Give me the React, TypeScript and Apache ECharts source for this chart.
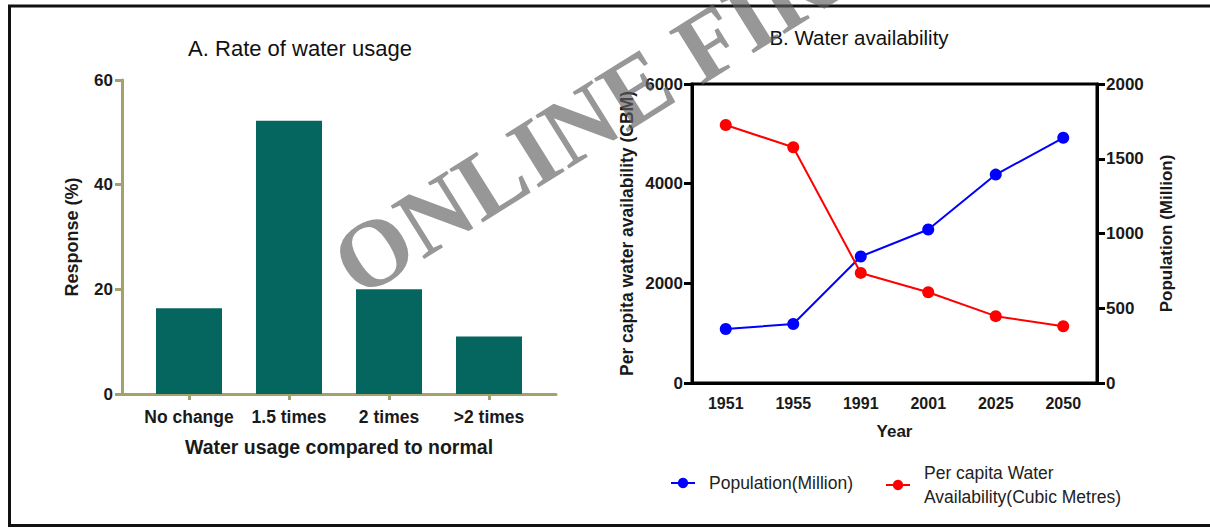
import React, { useEffect, useRef } from "react";
import * as echarts from "echarts";

const barCategories = ["No change", "1.5 times", "2 times", ">2 times"];
const barValues = [16.4, 52.2, 20.0, 11.0];
const barTicks = [0, 20, 40, 60];

const years = ["1951", "1955", "1991", "2001", "2025", "2050"];
const population = [361, 395, 846, 1027, 1394, 1640];
const perCapita = [5177, 4732, 2209, 1820, 1341, 1140];

const FONT = '"Liberation Sans", Arial, sans-serif';
const OLIVE = "#a3a16c";
const TEAL = "#04665f";
const POP_NAME = "Population(Million)";
const WATER_NAME = "Per capita Water\nAvailability(Cubic Metres)";

export default function App() {
  const ref = useRef<HTMLDivElement>(null);
  useEffect(() => {
    if (!ref.current) return;
    const chart = echarts.init(ref.current, null, { renderer: "svg" });
    const boldLabel = (size: number) => ({
      fontFamily: FONT,
      fontWeight: "bold" as const,
      fontSize: size,
      color: "#1a1a1a",
    });
    const plain = (v: number) => String(v);
    chart.setOption({
      animation: false,
      backgroundColor: "#ffffff",
      textStyle: { fontFamily: FONT },
      title: [
        {
          text: "A. Rate of water usage",
          left: 295,
          top: 32,
          textAlign: "center",
          textStyle: { fontFamily: FONT, fontWeight: "normal", fontSize: 22, color: "#111" },
        },
        {
          text: "B. Water availability",
          left: 854,
          top: 22,
          textAlign: "center",
          textStyle: { fontFamily: FONT, fontWeight: "normal", fontSize: 20.5, color: "#111" },
        },
      ],
      legend: [
        {
          data: [{ name: POP_NAME }],
          left: 670,
          top: 474,
          padding: 0,
          itemWidth: 24,
          itemHeight: 13,
          textStyle: { fontFamily: FONT, fontSize: 17.5, color: "#222", padding: [0, 0, 0, 9] },
        },
        {
          data: [{ name: WATER_NAME }],
          left: 885,
          top: 461,
          padding: 0,
          itemWidth: 24,
          itemHeight: 13,
          textStyle: {
            fontFamily: FONT,
            fontSize: 17.5,
            color: "#222",
            lineHeight: 24,
            padding: [0, 0, 0, 9],
          },
        },
      ],
      grid: [
        { left: 122, top: 80, width: 434, height: 314 },
        {
          left: 692,
          top: 84,
          width: 405,
          height: 299,
          show: true,
          borderColor: "#000",
          borderWidth: 3,
          backgroundColor: "transparent",
        },
      ],
      xAxis: [
        {
          gridIndex: 0,
          type: "value",
          min: -0.67,
          max: 3.67,
          splitLine: { show: false },
          axisLine: { show: true, onZero: false, lineStyle: { color: OLIVE, width: 3 } },
          axisTick: {
            show: true,
            customValues: [0, 1, 2, 3],
            length: 6,
            lineStyle: { color: OLIVE, width: 3 },
          },
          axisLabel: {
            customValues: [0, 1, 2, 3],
            formatter: (v: number) => barCategories[Math.round(v)] ?? "",
            margin: 14,
            ...boldLabel(17.5),
          },
          name: "Water usage compared to normal",
          nameLocation: "middle",
          nameGap: 43,
          nameTextStyle: boldLabel(19.5),
        },
        {
          gridIndex: 1,
          type: "category",
          data: years,
          boundaryGap: true,
          axisLine: { lineStyle: { color: "#000", width: 3 } },
          axisTick: { alignWithLabel: true, length: 7, lineStyle: { color: "#000", width: 3 } },
          axisLabel: { margin: 12, ...boldLabel(16) },
          name: "Year",
          nameLocation: "middle",
          nameGap: 40,
          nameTextStyle: boldLabel(17),
        },
      ],
      yAxis: [
        {
          gridIndex: 0,
          type: "value",
          min: barTicks[0],
          max: barTicks[barTicks.length - 1],
          interval: 20,
          splitLine: { show: false },
          axisLine: { show: true, onZero: false, lineStyle: { color: OLIVE, width: 3 } },
          axisTick: { show: true, length: 7, lineStyle: { color: OLIVE, width: 3 } },
          axisLabel: { margin: 9, formatter: plain, ...boldLabel(17) },
          name: "Response (%)",
          nameLocation: "middle",
          nameGap: 41,
          nameTextStyle: boldLabel(18),
        },
        {
          gridIndex: 1,
          type: "value",
          min: 0,
          max: 6000,
          interval: 2000,
          splitLine: { show: false },
          axisLine: { show: true, onZero: false, lineStyle: { color: "#000", width: 3 } },
          axisTick: { show: true, length: 8, lineStyle: { color: "#000", width: 3 } },
          axisLabel: { margin: 9, formatter: plain, ...boldLabel(17) },
          name: "Per capita water availability (CBM)",
          nameLocation: "middle",
          nameGap: 56,
          nameTextStyle: boldLabel(17.5),
        },
        {
          gridIndex: 1,
          type: "value",
          position: "right",
          min: 0,
          max: 2000,
          interval: 500,
          splitLine: { show: false },
          axisLine: { show: true, onZero: false, lineStyle: { color: "#000", width: 3 } },
          axisTick: { show: true, length: 8, lineStyle: { color: "#000", width: 3 } },
          axisLabel: { margin: 9, formatter: plain, ...boldLabel(17) },
          name: "Population (Million)",
          nameLocation: "middle",
          nameGap: 61,
          nameTextStyle: boldLabel(17),
        },
      ],
      series: [
        {
          type: "bar",
          xAxisIndex: 0,
          yAxisIndex: 0,
          data: barValues.map((v, i) => [i, v]),
          barWidth: 66,
          itemStyle: { color: TEAL },
        },
        {
          name: POP_NAME,
          type: "line",
          xAxisIndex: 1,
          yAxisIndex: 2,
          data: population,
          symbol: "circle",
          symbolSize: 12,
          lineStyle: { color: "#0000ff", width: 2 },
          itemStyle: { color: "#0000ff" },
        },
        {
          name: WATER_NAME,
          type: "line",
          xAxisIndex: 1,
          yAxisIndex: 1,
          data: perCapita,
          symbol: "circle",
          symbolSize: 12,
          lineStyle: { color: "#ff0000", width: 2 },
          itemStyle: { color: "#ff0000" },
        },
      ],
      graphic: [
        {
          type: "polyline",
          silent: true,
          shape: { points: [[1210, 6], [9.5, 6], [9.5, 525.5], [1210, 525.5]] },
          style: { stroke: "#111", lineWidth: 3, fill: "none" },
          z: 50,
        },
        {
          type: "text",
          silent: true,
          x: 342,
          y: 272,
          rotation: (32 * Math.PI) / 180,
          style: {
            text: "ONLINE FIRST",
            fontFamily: '"Liberation Serif", "Times New Roman", serif',
            fontWeight: "bold",
            fontSize: 96,
            fill: "rgba(95,95,95,0.65)",
            align: "left",
            verticalAlign: "middle",
          },
          z: 100,
        },
      ],
    });
    return () => chart.dispose();
  }, []);
  return (
    <div
      ref={ref}
      style={{ position: "fixed", left: 0, top: 0, width: 1210, height: 529 }}
    />
  );
}
